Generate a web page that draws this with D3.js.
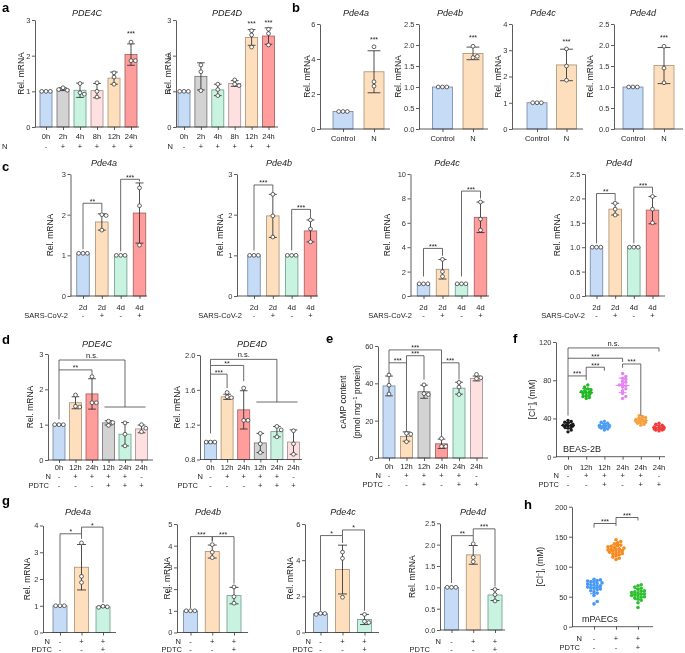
<!DOCTYPE html>
<html><head><meta charset="utf-8">
<script src="https://cdn.jsdelivr.net/npm/d3@7/dist/d3.min.js"></script>
<style>
body{margin:0;background:#fff}
svg{will-change:transform}
svg text{font-family:"Liberation Sans",Arial,Helvetica,sans-serif;fill:#222}
</style></head>
<body><svg id="fig" width="685" height="653"></svg>
<script>
// ================= DATA =================
// panel a
const aTimes=["0h","2h","4h","8h","12h","24h"];
const aN=["-","+","+","+","+","+"];
const a1Mean=[1.00,1.06,1.03,1.02,1.37,2.03];
const a1Sd=[0.00,0.04,0.20,0.20,0.17,0.30];
const a1Pts=[[1,1,1],[1.10,1.03,1.05],[1.22,0.96,0.92],[1.24,1.00,0.84],[1.52,1.40,1.20],[2.38,1.86,1.86]];
const a2Mean=[1.00,1.42,1.04,1.22,2.51,2.55];
const a2Sd=[0.00,0.38,0.16,0.08,0.22,0.23];
const a2Pts=[[1,1,1],[1.74,1.55,1.02],[1.20,1.05,0.88],[1.32,1.20,1.16],[2.70,2.58,2.24],[2.74,2.62,2.30]];
// panel b
const bGroups=["Control","N"];
const b1Mean=[1,3.27], b1Sd=[0,1.2], b1Pts=[[1,1,1],[4.7,2.7,2.45]];
const b2Mean=[1,1.80], b2Sd=[0,0.15], b2Pts=[[1,1,1],[1.97,1.70,1.73]];
const b3Mean=[1,2.44], b3Sd=[0,0.6], b3Pts=[[1,1,1],[3.05,2.40,1.86]];
const b4Mean=[1,1.51], b4Sd=[0,0.43], b4Pts=[[1,1,1],[1.97,1.45,1.10]];
// panel c
const cDays=["2d","2d","4d","4d"];
const cVirus=["-","+","-","+"];
const c1Mean=[1.05,1.82,1.0,2.04], c1Sd=[0,0.2,0,0.74], c1Pts=[[1.05,1.05,1.05],[2.0,1.98,1.62],[1,1,1],[2.66,2.22,1.25]];
const c2Mean=[1,1.97,1,1.6], c2Sd=[0,0.53,0,0.27], c2Pts=[[1,1,1],[2.5,1.97,1.45],[1,1,1],[1.87,1.65,1.33]];
const c3Mean=[1,2.19,1,6.45], c3Sd=[0,0.8,0,1.25], c3Pts=[[1,1,1],[3.0,2.0,1.6],[1,1,1],[7.7,6.3,5.4]];
const c4Mean=[1,1.78,1,1.76], c4Sd=[0,0.12,0,0.28], c4Pts=[[1,1,1],[1.9,1.78,1.66],[1,1,1],[2.04,1.78,1.50]];
// panel d
const dTimes=["0h","12h","24h","12h","24h","24h"];
const dN=["-","+","+","+","+","-"];
const dPDTC=["-","-","-","+","+","+"];
const d1Mean=[1.0,1.62,1.87,1.05,0.73,0.88], d1Sd=[0.01,0.17,0.43,0.06,0.33,0.11];
const d1Pts=[[1,1,1],[1.84,1.52,1.50],[2.36,1.62,1.62],[1.10,1.06,0.98],[1.05,0.73,0.40],[1.0,0.90,0.80]];
const d2Mean=[1.0,1.52,1.37,0.99,1.12,1.0], d2Sd=[0.01,0.03,0.22,0.11,0.06,0.14];
const d2Pts=[[1,1,1],[1.57,1.52,1.51],[1.62,1.25,1.25],[1.10,0.98,0.88],[1.18,1.14,1.06],[1.13,0.98,0.86]];
// panel e
const eTimes=["0h","12h","12h","24h","24h","24h"];
const eN=["-","+","+","+","+","-"];
const ePDTC=["-","-","+","-","+","+"];
const eMean=[38.6,11.5,35.5,7.6,37.4,42.6], eSd=[5.3,2.5,3.5,2.5,3.2,1.3];
const ePts=[[44.5,39,34.3],[13.2,12.8,8.7],[39.2,34.5,34.0],[10.5,6.2,6.2],[40.5,38,34],[44.8,43,42.5]];
// panel f
const fTimes=eTimes, fN=eN, fPDTC=ePDTC;
const fVals=[
 [26,28,30,31,31,32,32,33,33,33,34,35,36,37,38],
 [61,62,63,64,65,66,67,67,68,68,69,70,71,73,75],
 [28,29,30,30,31,31,32,32,32,33,33,34,35,36,37],
 [61,63,66,69,71,73,74,75,76,78,79,81,82,84,87],
 [33,34,35,36,36,37,37,38,38,39,39,40,41,42,43],
 [27,28,28,29,29,29,30,30,30,31,31,32,33,34,35]];
// panel g
const gN=["-","+","+"], gPDTC=["-","-","+"];
const g1Mean=[1.0,2.44,0.96], g1Sd=[0,0.85,0.02], g1Pts=[[1,1,1],[3.35,2.1,1.87],[0.98,0.96,0.94]];
const g2Mean=[1.0,3.73,1.7], g2Sd=[0,0.3,0.38], g2Pts=[[1,1,1],[4.05,3.7,3.45],[2.1,1.65,1.35]];
const g3Mean=[1.04,3.48,0.72], g3Sd=[0.03,1.35,0.28], g3Pts=[[1.06,1.05,1.0],[4.45,4.1,1.95],[1.0,0.62,0.55]];
const g4Mean=[1.0,1.76,0.82], g4Sd=[0,0.22,0.13], g4Pts=[[1,1,1],[2.02,1.7,1.6],[0.95,0.83,0.68]];
// panel h
const hN=["-","+","+"], hPDTC=["-","-","+"];
const hVals=[
 [38,42,52,56,58,60,62,63,64,65,66,67,68,69,70,71,72,73,74,75,76,77,78,79],
 [112,114,116,118,120,121,122,123,124,125,126,127,128,128,129,130,131,132,133,134,135,136,138,140,142,145],
 [32,40,44,46,48,49,50,51,52,53,54,55,56,57,58,59,60,62,64,66,68,70]];

// ================= STYLE =================
const COL={B:["#c6dbf6","#6f86a3"],G:["#d3d3d3","#6e6e6e"],M:["#c9f3e1","#6f9a88"],P:["#fde0df","#a08d8d"],O:["#fddfbe","#a88f72"],R:["#ff9d9d","#a25b5b"]};
const svg=d3.select("#fig");

function txt(g,x,y,s,o={}){
  const t=g.append("text").attr("x",x).attr("y",y).attr("font-size",o.fs||7.5)
   .attr("text-anchor",o.anchor||"middle").text(s);
  if(o.italic)t.attr("font-style","italic");
  if(o.bold)t.attr("font-weight","bold");
  if(o.fill)t.style("fill",o.fill);
  return t;
}
function ylab(g,x,yc,s){
  g.append("text").attr("transform",`translate(${x},${yc}) rotate(-90)`).attr("text-anchor","middle")
   .attr("dy","0.35em").attr("font-size",8.5).text(s);
}
function clLab(g,x,yc){
  const t=g.append("text").attr("transform",`translate(${x},${yc}) rotate(-90)`).attr("text-anchor","middle")
   .attr("dy","0.35em").attr("font-size",8.5);
  t.append("tspan").text("[Cl");
  t.append("tspan").attr("dy",-3).attr("font-size",6).text("\u2212");
  t.append("tspan").attr("dy",3).text("]");
  t.append("tspan").attr("dy",2).attr("font-size",6).text("i");
  t.append("tspan").attr("dy",-2).text(" (mM)");
}
function yAxis(g,p,y){
  const ax=d3.axisLeft(y).tickValues(p.ticks).tickSize(3).tickSizeOuter(0).tickPadding(1.5)
    .tickFormat(d3.format(p.fmt||"d"));
  const a=g.append("g").attr("transform",`translate(${p.ax},0)`).call(ax);
  a.select(".domain").attr("stroke","#333").attr("stroke-width",0.8);
  a.selectAll(".tick line").attr("stroke","#333").attr("stroke-width",0.8);
  a.selectAll(".tick text").attr("font-size",7.5).style("fill","#333");
}
function xAxis(g,p,x,y0){
  g.append("line").attr("x1",p.ax).attr("x2",p.ae).attr("y1",y0).attr("y2",y0)
   .attr("stroke","#333").attr("stroke-width",0.8);
  const a=g.append("g").attr("transform",`translate(0,${y0})`)
   .call(d3.axisBottom(x).tickSize(3).tickSizeOuter(0).tickFormat(""));
  a.select(".domain").remove();
  a.selectAll(".tick line").attr("stroke","#333").attr("stroke-width",0.8);
}
function rows(g,p,x){
  (p.rows||[]).forEach(r=>{
    if(r.label)txt(g,r.lx,r.y,r.label,{anchor:r.la||"end"});
    r.vals.forEach((v,i)=>txt(g,x(i),r.y,v));
  });
}
// deterministic beeswarm: horizontal offsets that keep markers from overlapping
function swarm(vals,y,step,minD,maxOff){
  const placed=[],off=new Array(vals.length);
  vals.forEach((v,i)=>{
    const py=y(v);
    let best=0,bestD=-1;
    for(let k=0;k<200;k++){
      const o=k===0?0:(k%2?1:-1)*Math.ceil(k/2)*step;
      if(Math.abs(o)>maxOff)break;
      const dmin=placed.length?d3.min(placed,q=>Math.hypot(q.x-o,q.y-py)):1e9;
      if(dmin>=minD){best=o;bestD=dmin;break;}
      if(dmin>bestD){bestD=dmin;best=o;}
    }
    off[i]=best;placed.push({x:best,y:py});
  });
  return off;
}
function brackets(g,list,x,y){
  (list||[]).forEach(b=>{
    if(b.hl){
      g.append("line").attr("x1",x(b.hl[0])-4).attr("x2",x(b.hl[1])+4).attr("y1",y(b.v)).attr("y2",y(b.v))
       .attr("stroke","#444").attr("stroke-width",0.8);
      return;
    }
    const xa=x(b.a),xb=x(b.b);
    g.append("path").attr("d",`M${xa},${y(b.la)}V${y(b.v)}H${xb}V${y(b.lb)}`)
     .attr("fill","none").attr("stroke","#444").attr("stroke-width",0.8);
    if(b.t==="n.s.")txt(g,(xa+xb)/2,y(b.v)-2,b.t,{fs:7.5});
    else txt(g,(xa+xb)/2,y(b.v)+0.5,b.t,{fs:7});
  });
}
function title(g,p){ if(p.title)txt(g,p.tx,p.ty,p.title,{fs:9,italic:true}); }

function barPanel(p){
  const g=svg.append("g");
  const y=d3.scaleLinear().domain(p.domain).range([p.y0,p.y1]);
  const x=d3.scalePoint().domain(d3.range(p.mean.length)).range([p.c0,p.c1]);
  const yb=y(p.domain[0]);
  g.selectAll("rect.bar").data(p.mean).join("rect").attr("class","bar")
   .attr("x",(d,i)=>x(i)-p.bw/2).attr("width",p.bw).attr("y",d=>y(d)).attr("height",d=>yb-y(d))
   .attr("fill",(d,i)=>COL[p.cols[i]][0]).attr("stroke",(d,i)=>COL[p.cols[i]][1]).attr("stroke-width",0.8);
  p.mean.forEach((m,i)=>{
    const s=p.sd[i]; if(s<=0.005)return;
    const cx=x(i),cw=p.bw*0.32;
    g.append("path").attr("d",`M${cx},${y(m-s)}V${y(m+s)}M${cx-cw},${y(m+s)}H${cx+cw}M${cx-cw},${y(m-s)}H${cx+cw}`)
     .attr("stroke","#222").attr("stroke-width",0.8).attr("fill","none");
  });
  p.pts.forEach((arr,i)=>{
    const off=swarm(arr,y,4.3,4.2,10);
    arr.forEach((v,j)=>g.append("circle").attr("cx",x(i)+off[j]).attr("cy",y(v)).attr("r",1.9)
      .attr("fill","#fff").attr("stroke","#333").attr("stroke-width",0.75));
  });
  yAxis(g,p,y); xAxis(g,p,x,yb);
  (p.stars||[]).forEach(s=>txt(g,x(s.i),y(s.v),s.t,{fs:7}));
  brackets(g,p.br,x,y);
  rows(g,p,x); title(g,p);
  if(p.ylab)ylab(g,p.ylx,(p.y0+p.y1)/2,p.ylab);
  return g;
}
function scatterPanel(p){
  const g=svg.append("g");
  const y=d3.scaleLinear().domain(p.domain).range([p.y0,p.y1]);
  const x=d3.scalePoint().domain(d3.range(p.vals.length)).range([p.c0,p.c1]);
  p.vals.forEach((arr,i)=>{
    const off=swarm(arr,y,p.step,p.minD,p.maxOff);
    arr.forEach((v,j)=>g.append("circle").attr("cx",x(i)+off[j]).attr("cy",y(v)).attr("r",p.r).attr("fill",p.colors[i]));
    const m=d3.mean(arr),sd=d3.deviation(arr),cx=x(i);
    g.append("path").attr("d",`M${cx-7},${y(m)}H${cx+7}M${cx},${y(m-sd)}V${y(m+sd)}M${cx-4},${y(m+sd)}H${cx+4}M${cx-4},${y(m-sd)}H${cx+4}`)
     .attr("stroke",p.colors[i]).attr("stroke-width",1).attr("fill","none");
  });
  yAxis(g,p,y); xAxis(g,p,x,y(p.domain[0]));
  brackets(g,p.br,x,y); rows(g,p,x);
  clLab(g,p.ylx,(p.y0+p.y1)/2);
  txt(g,p.cellX,p.cellY,p.cell,{fs:9,anchor:"start"});
  return g;
}

// ================= LAYOUT / DRAW =================
[["a",2,12],["b",292,12],["c",2,171],["d",2,344],["e",326,343],["f",513,343],["g",2,505],["h",524,509]]
 .forEach(l=>txt(svg,l[1],l[2],l[0],{fs:13,bold:true,anchor:"start",fill:"#000"}));

// a
barPanel({ax:35,ae:139,c0:46,c1:131,bw:12,y0:127,y1:20,domain:[0,3],ticks:[0,1,2,3],
  mean:a1Mean,sd:a1Sd,pts:a1Pts,cols:["B","G","M","P","O","R"],
  stars:[{i:5,v:2.55,t:"***"}],title:"PDE4C",tx:87,ty:16,ylab:"Rel. mRNA",ylx:21,
  rows:[{vals:aTimes,y:139},{label:"N",lx:2,la:"start",vals:aN,y:149}]});
barPanel({ax:176,ae:278,c0:184,c1:268.5,bw:12,y0:127,y1:20,domain:[0,3],ticks:[0,1,2,3],
  mean:a2Mean,sd:a2Sd,pts:a2Pts,cols:["B","G","M","P","O","R"],
  stars:[{i:4,v:2.82,t:"***"},{i:5,v:2.86,t:"***"}],title:"PDE4D",tx:227,ty:16,ylab:"Rel. mRNA",ylx:168,
  rows:[{vals:aTimes,y:139},{label:"N",lx:173,vals:aN,y:149}]});
// b
const bRows=[{vals:bGroups,y:141}];
barPanel({ax:320,ae:390,c0:343,c1:374,bw:20,y0:129,y1:24,domain:[0,6],ticks:[0,2,4,6],
  mean:b1Mean,sd:b1Sd,pts:b1Pts,cols:["B","O"],stars:[{i:1,v:5.0,t:"***"}],
  title:"Pde4a",tx:356,ty:16,ylab:"Rel. mRNA",ylx:307,rows:bRows});
barPanel({ax:419,ae:488,c0:442.5,c1:473,bw:20,y0:129,y1:24,domain:[0,2.5],ticks:[0,0.5,1,1.5,2,2.5],fmt:".1f",
  mean:b2Mean,sd:b2Sd,pts:b2Pts,cols:["B","O"],stars:[{i:1,v:2.13,t:"***"}],
  title:"Pde4b",tx:450,ty:16,ylab:"Rel. mRNA",ylx:398,rows:bRows});
barPanel({ax:512,ae:583,c0:537,c1:566.5,bw:20,y0:129,y1:24,domain:[0,4],ticks:[0,1,2,3,4],
  mean:b3Mean,sd:b3Sd,pts:b3Pts,cols:["B","O"],stars:[{i:1,v:3.22,t:"***"}],
  title:"Pde4c",tx:543,ty:16,ylab:"Rel. mRNA",ylx:498,rows:bRows});
barPanel({ax:614,ae:683,c0:633,c1:664,bw:20,y0:129,y1:24,domain:[0,2.5],ticks:[0,0.5,1,1.5,2,2.5],fmt:".1f",
  mean:b4Mean,sd:b4Sd,pts:b4Pts,cols:["B","O"],stars:[{i:1,v:2.13,t:"***"}],
  title:"Pde4d",tx:643,ty:16,ylab:"Rel. mRNA",ylx:590,rows:bRows});
// c
function cRows(lx){return [{vals:cDays,y:309.5},{label:"SARS-CoV-2",lx:lx,vals:cVirus,y:317.5}];}
const cCols=["B","O","M","R"];
barPanel({ax:70.5,ae:147,c0:83,c1:139.5,bw:12.5,y0:296,y1:174,domain:[0,3],ticks:[0,1,2,3],
  mean:c1Mean,sd:c1Sd,pts:c1Pts,cols:cCols,title:"Pde4a",tx:104,ty:166,ylab:"Rel. mRNA",ylx:50,rows:cRows(68),
  br:[{a:0,b:1,v:2.28,la:1.15,lb:2.06,t:"**"},{a:2,b:3,v:2.87,la:1.1,lb:2.82,t:"***"}]});
barPanel({ax:237,ae:318,c0:254,c1:310.5,bw:12.5,y0:296,y1:174,domain:[0,3],ticks:[0,1,2,3],
  mean:c2Mean,sd:c2Sd,pts:c2Pts,cols:cCols,title:"Pde4b",tx:279,ty:166,ylab:"Rel. mRNA",ylx:220,rows:cRows(242),
  br:[{a:0,b:1,v:2.73,la:1.12,lb:2.55,t:"***"},{a:2,b:3,v:2.13,la:1.12,lb:1.92,t:"***"}]});
barPanel({ax:410.5,ae:489,c0:423.5,c1:480.5,bw:12.5,y0:296,y1:174,domain:[0,10],ticks:[0,2,4,6,8,10],
  mean:c3Mean,sd:c3Sd,pts:c3Pts,cols:cCols,title:"Pde4c",tx:447,ty:166,ylab:"Rel. mRNA",ylx:387,rows:cRows(412),
  br:[{a:0,b:1,v:3.9,la:1.6,lb:3.3,t:"***"},{a:2,b:3,v:8.6,la:1.6,lb:8.0,t:"***"}]});
barPanel({ax:585,ae:665,c0:596.5,c1:652.5,bw:12.5,y0:296,y1:174,domain:[0,2.5],ticks:[0,0.5,1,1.5,2,2.5],fmt:".1f",
  mean:c4Mean,sd:c4Sd,pts:c4Pts,cols:cCols,title:"Pde4d",tx:619,ty:166,ylab:"Rel. mRNA",ylx:557,rows:cRows(585),
  br:[{a:0,b:1,v:2.1,la:1.08,lb:1.95,t:"**"},{a:2,b:3,v:2.23,la:1.08,lb:2.1,t:"***"}]});
// d
const dCols=["B","O","R","G","M","P"];
barPanel({ax:48,ae:153,c0:59,c1:141.5,bw:12,y0:460,y1:354,domain:[0,3],ticks:[0,1,2,3],
  mean:d1Mean,sd:d1Sd,pts:d1Pts,cols:dCols,title:"PDE4C",tx:97,ty:347,ylab:"Rel. mRNA",ylx:30,
  rows:[{vals:dTimes,y:470},{label:"N",lx:51,vals:dN,y:479},{label:"PDTC",lx:49,vals:dPDTC,y:488}],
  br:[{a:0,b:2,v:2.55,la:1.15,lb:2.42,t:"**"},{a:0,b:4,v:2.83,la:2.55,lb:1.5,t:"n.s."},{hl:[3,5],v:1.5}]});
barPanel({ax:200,ae:302,c0:210.5,c1:293.5,bw:12,y0:459.5,y1:355,domain:[0.8,2.0],ticks:[0.8,1.2,1.6,2.0],fmt:".1f",
  mean:d2Mean,sd:d2Sd,pts:d2Pts,cols:dCols,title:"PDE4D",tx:252,ty:347,ylab:"Rel. mRNA",ylx:177,
  rows:[{vals:dTimes,y:470},{label:"N",lx:203,vals:dN,y:479},{label:"PDTC",lx:198,vals:dPDTC,y:488}],
  br:[{a:0,b:1,v:1.78,la:1.1,lb:1.62,t:"***"},{a:0,b:2,v:1.88,la:1.78,lb:1.7,t:"**"},{a:0,b:4,v:1.95,la:1.88,lb:1.46,t:"n.s."},{hl:[3,5],v:1.46}]});
// e
const eG=barPanel({ax:378,ae:488,c0:389,c1:476.5,bw:12,y0:458,y1:346,domain:[0,60],ticks:[0,20,40,60],
  mean:eMean,sd:eSd,pts:ePts,cols:["B","O","G","R","M","P"],
  rows:[{vals:eTimes,y:469},{label:"N",lx:381,vals:eN,y:478},{label:"PDTC",lx:383,vals:ePDTC,y:487}],
  br:[{a:0,b:3,v:57.9,la:51,lb:51,t:"***"},{a:0,b:1,v:51,la:45,lb:14.5,t:"***"},
      {a:1,b:2,v:54.8,la:51,lb:42,t:"***"},{a:3,b:4,v:51,la:11.5,lb:42,t:"***"}]});
ylab(eG,343,402,"cAMP content");
{const t=eG.append("text").attr("transform","translate(357,402) rotate(-90)").attr("text-anchor","middle")
  .attr("dy","0.35em").attr("font-size",8.5);
 t.append("tspan").text("(pmol mg");
 t.append("tspan").attr("dy",-3).attr("font-size",6).text("\u22121");
 t.append("tspan").attr("dy",3).text(" protein)");}
// f
scatterPanel({ax:556,ae:665,c0:568,c1:659,y0:456.7,y1:342,domain:[0,120],ticks:[0,40,80,120],
  vals:fVals,colors:["#1a1a1a","#22b822","#4d9ef5","#e383f2","#f7a040","#f03c3c"],r:1.7,step:1.6,minD:2.8,maxOff:6,
  ylx:532,cell:"BEAS-2B",cellX:563,cellY:452,
  rows:[{vals:fTimes,y:469.5},{label:"N",lx:559,vals:fN,y:478},{label:"PDTC",lx:559,vals:fPDTC,y:487}],
  br:[{a:0,b:5,v:113.8,la:103,lb:110,t:"n.s."},{a:0,b:3,v:103,la:84.5,lb:99,t:"***"},
      {a:0,b:1,v:84.5,la:43,lb:80,t:"***"},{a:1,b:2,v:93.6,la:84.5,lb:90,t:"***"},{a:3,b:4,v:97,la:93,lb:43,t:"***"}]});
// g
function gRows(l1,l2){return [{label:"N",lx:l1,vals:gN,y:643.5},{label:"PDTC",lx:l2,vals:gPDTC,y:651.5}];}
const gCols=["B","O","M"];
barPanel({ax:43,ae:116,c0:60,c1:103,bw:14,y0:632.5,y1:525.5,domain:[0,4],ticks:[0,1,2,3,4],
  mean:g1Mean,sd:g1Sd,pts:g1Pts,cols:gCols,title:"Pde4a",tx:78,ty:515,ylab:"Rel. mRNA",ylx:27,rows:gRows(50,52),
  br:[{a:0,b:1,v:3.69,la:1.1,lb:3.5,t:"*"},{a:1,b:2,v:3.94,la:3.69,lb:1.12,t:"*"}]});
barPanel({ax:177,ae:248,c0:190.5,c1:234,bw:14,y0:632.5,y1:524,domain:[0,5],ticks:[0,1,2,3,4,5],
  mean:g2Mean,sd:g2Sd,pts:g2Pts,cols:gCols,title:"Pde4b",tx:208,ty:515,ylab:"Rel. mRNA",ylx:167,rows:gRows(181,182),
  br:[{a:0,b:1,v:4.42,la:1.12,lb:4.2,t:"***"},{a:1,b:2,v:4.42,la:4.2,lb:2.25,t:"***"}]});
barPanel({ax:305,ae:379,c0:320.5,c1:364.5,bw:14,y0:632.5,y1:524,domain:[0,6],ticks:[0,2,4,6],
  mean:g3Mean,sd:g3Sd,pts:g3Pts,cols:gCols,title:"Pde4c",tx:343,ty:515,ylab:"Rel. mRNA",ylx:290,rows:gRows(311,313),
  br:[{a:0,b:1,v:5.36,la:1.2,lb:4.95,t:"*"},{a:1,b:2,v:5.67,la:5.36,lb:1.2,t:"*"}]});
barPanel({ax:440,ae:505,c0:451.5,c1:495,bw:14,y0:630,y1:523.3,domain:[0,2.5],ticks:[0,0.5,1,1.5,2,2.5],fmt:".1f",
  mean:g4Mean,sd:g4Sd,pts:g4Pts,cols:gCols,title:"Pde4d",tx:473,ty:515,ylab:"Rel. mRNA",ylx:412,rows:gRows(441,430),
  br:[{a:0,b:1,v:2.21,la:1.1,lb:2.08,t:"**"},{a:1,b:2,v:2.37,la:2.21,lb:1.02,t:"***"}]});
// h
scatterPanel({ax:572,ae:653,c0:594,c1:638,y0:626.7,y1:506.7,domain:[0,200],ticks:[0,50,100,150,200],
  vals:hVals,colors:["#4a9af5","#f78a1e","#2ec02e"],r:1.8,step:1.6,minD:3.0,maxOff:9,
  ylx:540,cell:"mPAECs",cellX:582,cellY:622,
  rows:[{label:"N",lx:582,vals:hN,y:641},{label:"PDTC",lx:580,vals:hPDTC,y:650}],
  br:[{a:0,b:1,v:172,la:165,lb:168,t:"***"},{a:1,b:2,v:182,la:172,lb:177,t:"***"}]});
</script></body></html>
